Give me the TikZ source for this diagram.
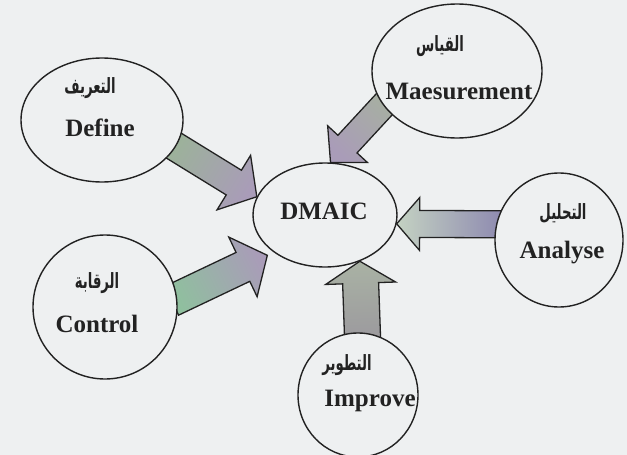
\documentclass[tikz,border=0pt]{standalone}
\usepackage{fontspec}
\setmainfont{Liberation Serif}
\newfontfamily\arabicfont[Script=Arabic,FakeStretch=0.63]{DejaVu Sans}
\TeXXeTstate=1
\usetikzlibrary{calc,shapes.geometric}
\pgfdeclarelayer{bgfill}
\pgfdeclarelayer{arrows}
\pgfsetlayers{bgfill,arrows,main}
\definecolor{bg}{HTML}{EEF0F1}
\definecolor{ink}{HTML}{222222}
\definecolor{grn}{HTML}{9CB29A}
\definecolor{mau}{HTML}{A99CB8}
\definecolor{gry}{HTML}{A7AFA2}
\definecolor{blu}{HTML}{8E8AB0}
\definecolor{pale}{HTML}{C4D2C2}
\definecolor{lgrn}{HTML}{8FC09E}
\definecolor{ggr}{HTML}{A9B2A4}
\definecolor{dgr}{HTML}{9C9A9E}
\tikzset{
  stage/.style={ellipse, draw=ink, line width=1.4pt, fill=bg, inner sep=0pt},
  entxt/.style={font=\bfseries\fontsize{25}{28}\selectfont, text=ink, inner sep=0pt},
  artxt/.style={font=\arabicfont\bfseries\fontsize{21}{24}\selectfont, text=ink, inner sep=0pt},
  blockarrow/.style={draw=ink, line width=1.3pt, line join=miter},
}
% #1 source border point, #2 tip, #3 half shaft, #4 half head, #5 head length,
% #6 tail colour, #7 head colour, #8 shading angle
\newcommand\blockarr[8]{%
  \coordinate (ba-t) at ($(#1)!-6pt!(#2)$);
  \coordinate (ba-h) at ($(#2)!#5pt!(#1)$);
  \path[blockarrow, bottom color=#6, top color=#7, shading angle=#8]
    ($(ba-t)!#3pt!90:(#2)$) -- ($(ba-h)!#3pt!90:(#2)$) -- ($(ba-h)!#4pt!90:(#2)$)
    -- (#2) -- ($(ba-h)!#4pt!-90:(#2)$) -- ($(ba-h)!#3pt!-90:(#2)$)
    -- ($(ba-t)!#3pt!-90:(#2)$) -- cycle;
}
\begin{document}
\begin{tikzpicture}[x=1pt,y=-1pt]
\begin{pgfonlayer}{bgfill}
  \fill[bg] (0,0) rectangle (627,455);
\end{pgfonlayer}
\useasboundingbox (0,0) rectangle (627,455);

% stages
\node[stage, minimum width=144pt, minimum height=104pt] (dm)  at (325,215) {};
\node[stage, minimum width=162pt, minimum height=124pt] (def) at (102,120) {};
\node[stage, minimum width=170pt, minimum height=134pt] (mea) at (457,71) {};
\node[stage, minimum width=128pt, minimum height=134pt] (ana) at (559,240) {};
\node[stage, minimum width=144pt, minimum height=144pt] (ctl) at (105,307) {};
\node[stage, minimum width=120pt, minimum height=124pt] (imp) at (358,395) {};

% texts
\node[entxt] (dmT) at (324,211) {DMAIC};
\node[artxt] (defA) at (90,88) {\beginR التعريف\endR};
\node[entxt] (defE) at (100,128) {Define};
\node[artxt] (meaA) at (440,46) {\beginR القياس\endR};
\node[entxt] (meaE) at (459,91) {Maesurement};
\node[artxt] (anaA) at (563,213) {\beginR التحليل\endR};
\node[entxt] (anaE) at (562,253) {Analyse};
\node[artxt] (ctlA) at (97,283) {\beginR الرقابة\endR};
\node[entxt] (ctlE) at (97,324) {Control};
\node[artxt] (impA) at (347,365) {\beginR التطوير\endR};
\node[entxt] (impE) at (370,401) {Improve};

% arrows
\coordinate (ctip) at ($(dm.216)!7pt!(ctl.7)$);
\begin{pgfonlayer}{arrows}
  \blockarr{def.-20}{dm.165}{14.5}{32}{27}{grn}{mau}{-121}
  \blockarr{mea.205}{dm.84}{13}{27}{25}{gry}{mau}{138}
  \blockarr{ana.166}{dm.-7}{13.5}{26.5}{23}{blu}{pale}{90}
  \blockarr{ctl.7}{ctip}{16}{33}{27}{lgrn}{mau}{-65}
  \blockarr{imp.86}{dm.-53}{18}{35}{22}{dgr}{ggr}{2}
\end{pgfonlayer}
\end{tikzpicture}
\end{document}
